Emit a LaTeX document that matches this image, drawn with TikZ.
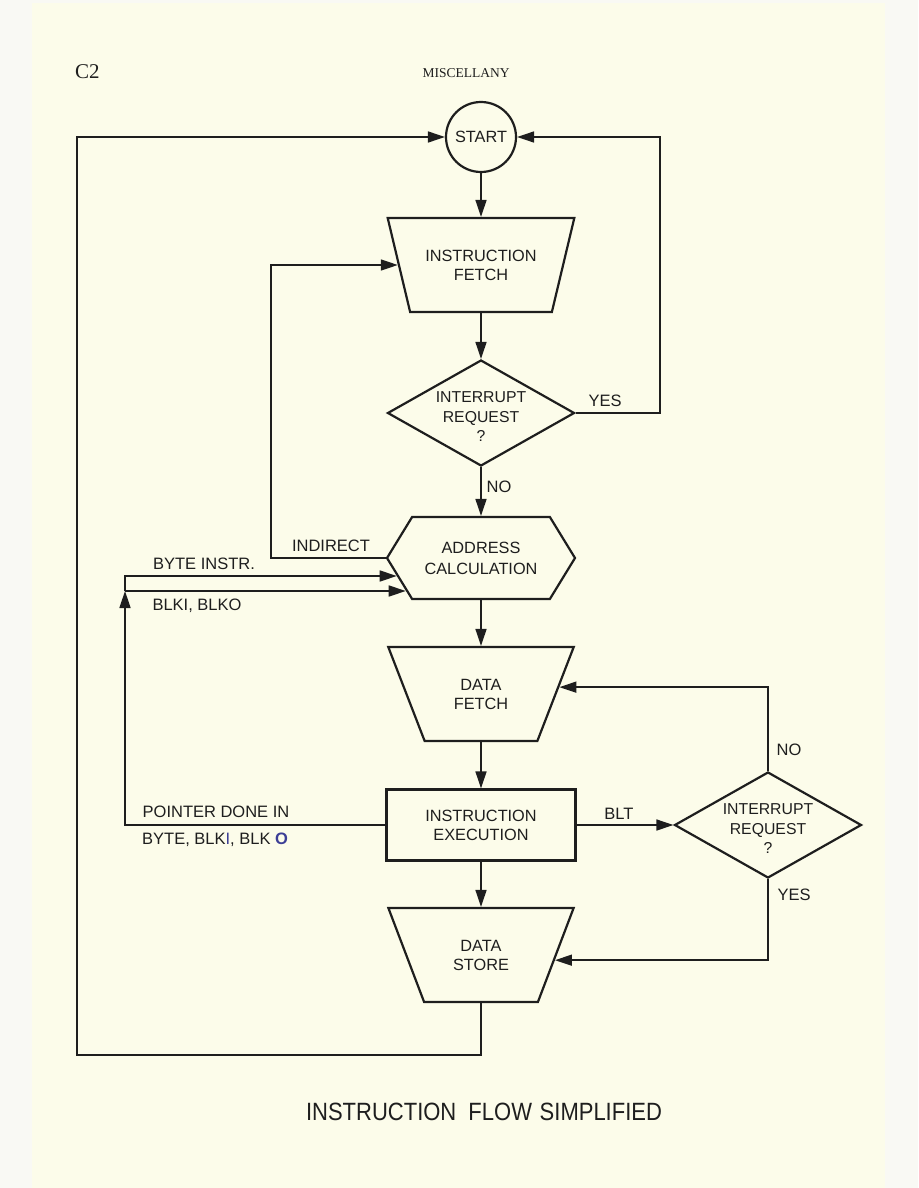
\documentclass[tikz,border=0pt]{standalone}
\usepackage{fontspec}
\usepackage{graphicx}
\setmainfont{Liberation Serif}
\setsansfont{Liberation Sans}
\usetikzlibrary{shapes.geometric,shapes.symbols,arrows.meta,calc}
\definecolor{paper}{RGB}{252,252,234}
\definecolor{outside}{RGB}{249,249,244}
\definecolor{ink}{RGB}{30,30,30}
\definecolor{pen}{RGB}{60,62,150}
\begin{document}
\begin{tikzpicture}[x=1pt,y=-1pt,
  box/.style={draw=ink, line width=2.2pt, inner sep=0pt, font=\sffamily\fontsize{16.3}{19}\selectfont, align=center, text=ink},
  trap/.style={box, trapezium, shape border rotate=180, trapezium angle=60, trapezium stretches=true, minimum width=187pt, minimum height=94pt},
  dec/.style={box, diamond, aspect=1.75, minimum width=187pt, minimum height=106pt},
  dectext/.style={font=\sffamily\fontsize{15.8}{19.5}\selectfont, align=center, text=ink, inner sep=0pt},
  lbl/.style={font=\sffamily\fontsize{16.5}{19}\selectfont, text=ink, inner sep=0pt},
  conn/.style={draw=ink, line width=1.6pt},
  arr/.style={conn, -{Triangle[length=17pt,width=11pt]}},
]
\useasboundingbox (0,0) rectangle (918,1188);
\fill[outside] (0,0) rectangle (918,1188);
\fill[paper] (32,3) rectangle (885,1188);

% header
\node[anchor=west, font=\fontsize{21}{24}\selectfont, text=ink, inner sep=0pt] (pg) at (75,72) {C2};
\node[font=\fontsize{13.5}{15}\selectfont, text=ink, inner sep=0pt] (hd) at (466,73) {MISCELLANY};

% shapes
\node[box, circle, minimum size=70pt] (start) at (481,137) {START};
\node[trap] (ifetch) at (481,265) {INSTRUCTION\\FETCH};
\node[dec] (d1) at (481,413) {};
\node[dectext] (d1t) at (481,417) {INTERRUPT\\REQUEST\\?};
\node[box, signal, signal to=east and west, signal pointer angle=117, minimum width=188pt, minimum height=82pt] (addr) at (481,558) {ADDRESS\\[2pt]CALCULATION};
\node[trap] (dfetch) at (481,694) {DATA\\FETCH};
\node[box, rectangle, minimum width=189pt, minimum height=71pt] (exec) at (481,825) {INSTRUCTION\\EXECUTION};
\node[dec] (d2) at (768,825) {};
\node[dectext] (d2t) at (768,829) {INTERRUPT\\REQUEST\\?};
\node[trap] (dstore) at (481,955) {DATA\\STORE};

% labels
\node[lbl] (yes1) at (605,401) {YES};
\node[lbl] (no1) at (499,487) {NO};
\node[lbl] (ind) at (331,546) {INDIRECT};
\node[lbl] (bytei) at (204,564) {BYTE INSTR.};
\node[lbl] (blk) at (197,606) {BLKI, BLKO};
\node[lbl] (ptr) at (216,812) {POINTER DONE IN};
\node[lbl, anchor=west] (ptr2) at (142,840) {BYTE, BLK{\color{pen}I}, BLK {\color{pen}\bfseries O}};
\node[lbl] (blt) at (619,814) {BLT};
\node[lbl] (no2) at (789,750) {NO};
\node[lbl] (yes2) at (794,895) {YES};

% title
\node[font=\sffamily\fontsize{25}{30}\selectfont, text=ink, inner sep=0pt] (title) at (484,1112) {\scalebox{0.88}[1]{INSTRUCTION\hspace{0.55em}FLOW\hspace{0.35em}SIMPLIFIED}};

% coordinates
\coordinate (rtop) at (660,137);
\coordinate (lind) at (271,558);
\coordinate (lb1) at (125,576);
\coordinate (lb2) at (125,591);
\coordinate (bl) at (77,1055);

% connectors
\draw[arr] (start.south) -- (ifetch.north);
\draw[arr] (ifetch.south) -- (d1.north);
\draw[arr] (d1.south) -- (addr.north);
\draw[arr] (d1.east) -| (rtop) -- (start.east);
\draw[arr] (addr.west) -- (lind) |- (ifetch.180);
\draw[arr] (exec.west) -| (lb2);
\draw[arr] (lb2) -- (lb1) -- ($(addr.west)+(11,18)$);
\draw[arr] (lb2) -- ($(addr.west)+(20,33)$);
\draw[arr] (addr.south) -- (dfetch.north);
\draw[arr] (dfetch.south) -- (exec.north);
\draw[arr] (exec.south) -- (dstore.north);
\draw[arr] (exec.east) -- (d2.west);
\draw[arr] (d2.north) |- (dfetch.5);
\draw[arr] (d2.south) |- (dstore.-4);
\draw[arr] (dstore.south) |- (bl) |- (start.west);
\end{tikzpicture}
\end{document}
